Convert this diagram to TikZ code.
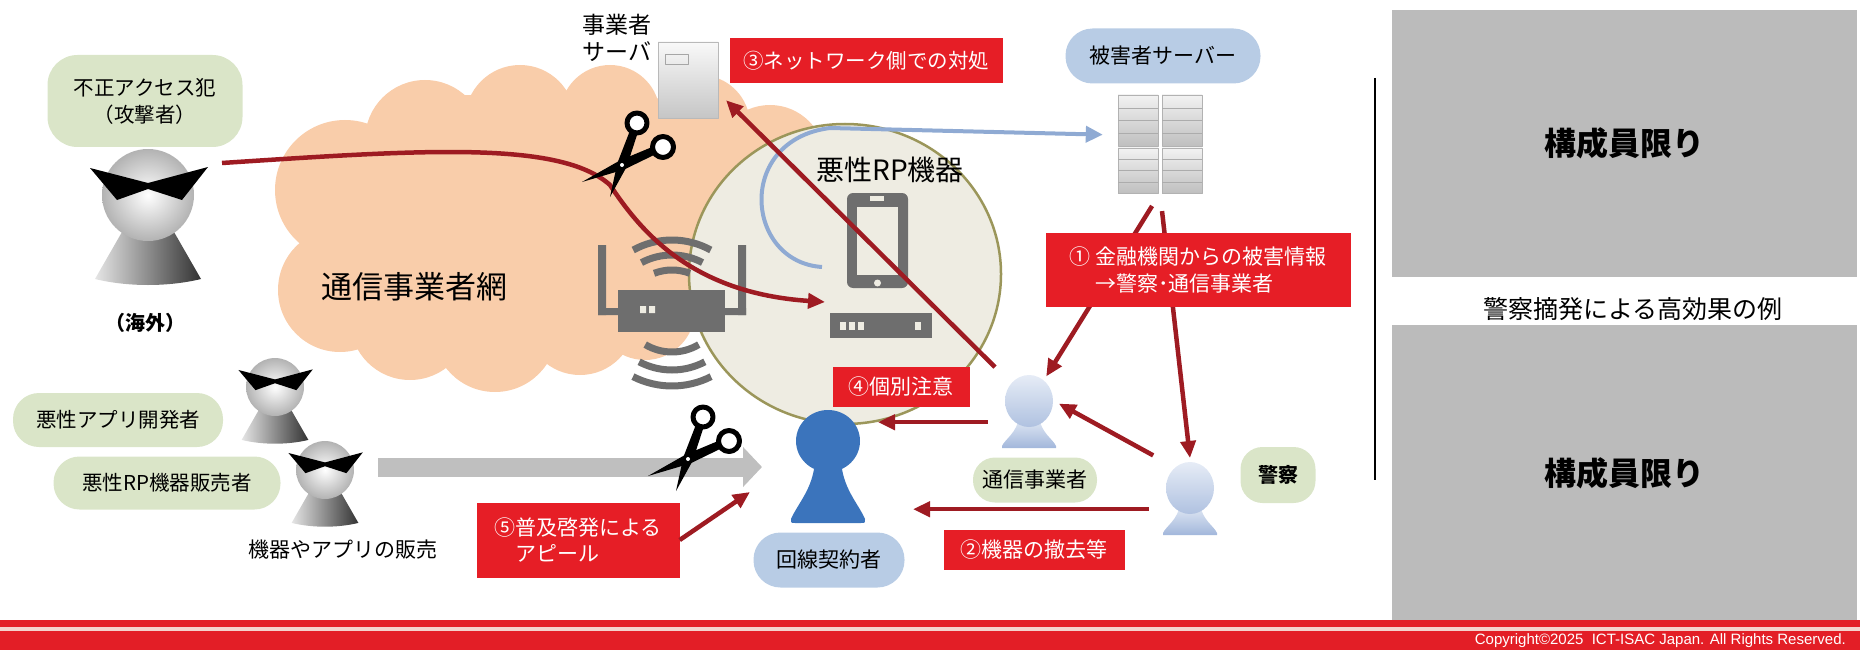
\documentclass[tikz,border=0pt]{standalone}
\usepackage{fontspec}
\setmainfont{Noto Sans CJK JP}
\newfontfamily\copyfont{Liberation Sans}
\usetikzlibrary{arrows.meta,shapes.geometric,positioning}

\definecolor{Cloud}{HTML}{F9CDAA}
\definecolor{Zone}{HTML}{EEECE2}
\definecolor{ZoneLine}{HTML}{9B965A}
\definecolor{Device}{HTML}{6E6E6E}
\definecolor{Note}{HTML}{E61E26}
\definecolor{Wire}{HTML}{9E1B22}
\definecolor{Actor}{HTML}{DAE5C8}
\definecolor{Victim}{HTML}{B8CCE5}
\definecolor{Flow}{HTML}{8FAAD3}
\definecolor{Sale}{HTML}{BFBFBF}
\definecolor{Member}{HTML}{BBBBBB}
\definecolor{Subscriber}{HTML}{3B74BC}
\definecolor{StaffTop}{HTML}{E6ECF6}
\definecolor{StaffBot}{HTML}{A2B7DB}
\definecolor{Bar}{HTML}{E31E26}
\definecolor{BarLine}{HTML}{F4D2CC}

\newcommand{\jpsize}[2]{\fontsize{#1}{#2}\selectfont}

\tikzset{
  note/.style={fill=Note, text=white, inner sep=0pt, font=\jpsize{21}{27}},
  actor/.style={fill=Actor, inner sep=0pt, rounded corners=26pt, font=\jpsize{20.5}{27}},
  victim/.style={fill=Victim, inner sep=0pt, rounded corners=27pt, font=\jpsize{21}{27}},
  wire/.style={draw=Wire, line width=4.5pt, -{Triangle[length=17pt,width=15pt]}},
  flow/.style={draw=Flow, line width=4pt, -{Triangle[length=17pt,width=16pt]}},
  sale/.style={draw=Sale, line width=19pt, -{Triangle[length=19pt,width=39pt]}},
  wifi/.style={draw=Device, line width=7pt},
  headnode/.style={circle, inner sep=0pt, outer sep=6pt, minimum size=#1},
  % masked figure, head centre at the origin
  villain/.pic={
    \shade [left color=gray!20, right color=black!80] (-22,30) -- (-53,84)
      .. controls (-20,92) and (20,92) .. (53,84) -- (22,30) -- cycle;
    \shade [inner color=white, outer color=gray!60] (0,0) circle [radius=46];
    \fill [black] (-58,-27) -- (0,-12) -- (60,-28) -- (34,5) -- (0,-6) -- (-31,5) -- cycle;
    \node [headnode=92pt] (-head) at (0,0) {};
  },
  subscriber/.pic={
    \fill [Subscriber] (-13,20) .. controls (-15,48) and (-30,62) .. (-37,78)
      .. controls (-37,82) .. (-33,82) -- (33,82) .. controls (37,82) .. (37,78)
      .. controls (30,62) and (15,48) .. (13,20) -- cycle;
    \fill [Subscriber] (0,0) ellipse [x radius=32, y radius=31];
    \node [headnode=62pt] (-head) at (0,0) {};
  },
  staff/.pic={
    \shade [top color=StaffTop, bottom color=StaffBot] (-10,16) .. controls (-12,32) and (-24,38) .. (-27,45)
      -- (-27,47) -- (27,47) -- (27,45) .. controls (24,38) and (12,32) .. (10,16) -- cycle;
    \shade [top color=StaffTop, bottom color=StaffBot!80!StaffTop] (0,0) ellipse [x radius=24, y radius=26];
    \node [headnode=48pt] (-head) at (0,0) {};
  },
  scissors/.pic={
    \fill [black] (21.4,-10.7) -- (24.6,-3.3) -- (-6,11.6) -- (-48,24) -- (-10,2.4) -- cycle;
    \fill [black] (-0.2,-27) -- (7.4,-24.2) -- (-3.3,8.7) -- (-20,39) -- (-12.7,5.3) -- cycle;
    \draw [line width=5pt, fill=white] (7,-35) circle [radius=10];
    \draw [line width=5pt, fill=white] (33,-11) circle [radius=10.5];
    \fill [white] (-8,7) circle [radius=2];
  },
}

\begin{document}
\begin{tikzpicture}[x=1pt, y=-1pt, line join=round]

 \useasboundingbox (0,0) rectangle (1860,650);

 %%%%%%%%%% Carrier network cloud %%%%%%%%%%
 \fill [Cloud] (345,190) circle [radius=70] (425,140) circle [radius=60]
   (520,120) circle [radius=55] (610,115) circle [radius=50] (700,125) circle [radius=50]
   (770,160) circle [radius=55] (340,290) circle [radius=62] (410,320) circle [radius=60]
   (495,330) circle [radius=62] (580,320) circle [radius=55] (645,310) circle [radius=50]
   (560,230) circle [radius=130] (700,240) circle [radius=80]
   (420,225) circle [radius=85] (470,175) circle [radius=80];
 \node [font=\jpsize{31}{36}] (netlabel) at (414,287) {通信事業者網};

 %%%%%%%%%% Malicious RP zone %%%%%%%%%%
 \node [ellipse, draw=ZoneLine, fill=Zone, line width=2.5pt, minimum width=312pt, minimum height=300pt] (zone) at (845,274) {};
 \node [font=\jpsize{28}{32}] (rplabel) at (890,170) {悪性RP機器};

 %%%%%%%%%% Router and wifi %%%%%%%%%%
 \fill [Device] (598,245) rectangle (606,315) (738,245) rectangle (746,315);
 \fill [Device] (598,308) rectangle (620,315) (723,308) rectangle (746,315);
 \node [fill=Device, minimum width=107pt, minimum height=42pt, inner sep=0pt] (router) at (671.5,311) {};
 \fill [Zone] (640,306) rectangle ++(6,7) (649,306) rectangle ++(6,7);
 \draw [wifi] (672,320) ++(-61:80) arc [start angle=-61, end angle=-119, radius=80];
 \draw [wifi] (672,320) ++(-62:65) arc [start angle=-62, end angle=-118, radius=65];
 \draw [wifi] (672,320) ++(-69:50) arc [start angle=-69, end angle=-111, radius=50];
 \draw [wifi] (672,300) ++(59:52) arc [start angle=59, end angle=121, radius=52];
 \draw [wifi] (672,300) ++(62:70) arc [start angle=62, end angle=118, radius=70];
 \draw [wifi] (672,300) ++(63:86) arc [start angle=63, end angle=117, radius=86];

 %%%%%%%%%% Phone and modem %%%%%%%%%%
 \node [fill=Device, rounded corners=6pt, minimum width=61pt, minimum height=95pt, inner sep=0pt] (phone) at (877.5,240.5) {};
 \fill [Zone] (857,207) rectangle (898,275);
 \fill [Zone] (870,196) rectangle (884,201);
 \fill [Zone] (877.5,283) circle [radius=3.5];
 \node [fill=Device, minimum width=102pt, minimum height=25pt, inner sep=0pt] (modem) at (881,325.5) {};
 \foreach \x in {840,849,858,915}
   \fill [Zone] (\x,322) rectangle ++(6,8);

 %%%%%%%%%% Servers %%%%%%%%%%
 \node [draw=gray!55, top color=gray!5, bottom color=gray!45, minimum width=60pt, minimum height=76pt, inner sep=0pt, outer sep=8pt] (opsrv) at (688,80) {};
 \draw [gray!70, line width=1pt] (665,55) rectangle (688,65);
 \node [font=\jpsize{23}{27}, align=left, inner sep=0pt] (opsrvlabel) at (617,38) {事業者\\サーバ};

 \foreach \cx in {1118,1162}
 {
   \foreach \cy/\ch in {95/51,148/45}
   {
     \shade [top color=gray!10, bottom color=gray!50, draw=gray!60] (\cx,\cy) rectangle ++(40,\ch);
     \foreach \k in {1,2,3}
       \draw [gray!65] (\cx,{\cy+\k*\ch/4}) -- ++(40,0);
   }
 }
 \node [minimum width=84pt, minimum height=98pt, inner sep=0pt] (vsrv) at (1160,144) {};
 \node [victim, minimum width=195pt, minimum height=55pt] (vsrvlabel) at (1163,56) {被害者サーバー};

 %%%%%%%%%% People %%%%%%%%%%
 \node [actor, minimum width=195pt, minimum height=92pt, rounded corners=30pt, align=center] (atkbox) at (145,101) {不正アクセス犯\\（攻撃者）};
 \pic (atk) at (148,195) {villain};
 \node [font=\bfseries\jpsize{20}{24}] (overseas) at (145,323) {（海外）};

 \node [actor, minimum width=210pt, minimum height=54pt] (appdev) at (118,420) {悪性アプリ開発者};
 \node [actor, minimum width=227pt, minimum height=53pt] (rpseller) at (167,483) {悪性RP機器販売者};
 \pic [scale=0.63] (dev) at (275,387) {villain};
 \pic [scale=0.63] (seller) at (325,470) {villain};
 \node [font=\jpsize{21}{25}] (sales) at (343,550) {機器やアプリの販売};

 \pic (con) at (828,441) {subscriber};
 \node [victim, minimum width=151pt, minimum height=55pt] (conbox) at (829,560) {回線契約者};
 \pic (car) at (1029,401) {staff};
 \node [actor, minimum width=124pt, minimum height=45pt, rounded corners=22pt, font=\jpsize{21}{25}] (carbox) at (1035,480) {通信事業者};
 \pic (pol) at (1190,488) {staff};
 \node [actor, minimum width=75pt, minimum height=56pt, rounded corners=22pt, font=\bfseries\jpsize{20}{24}] (polbox) at (1278,475) {警察};

 %%%%%%%%%% Flows %%%%%%%%%%
 \coordinate (saleFrom) at (378,467);
 \coordinate (saleTo) at (762,467);
 \draw [sale] (saleFrom) -- (saleTo);

 \coordinate (flowOut) at (822,267);
 \draw [flow, shorten >=15pt] (flowOut) .. controls (745,262) and (735,140) .. (830,128) -- (vsrv.168);

 \coordinate (atkWire) at (222,163);
 \coordinate (rpIn) at (825,302);
 \draw [wire] (atkWire) .. controls (420,150) and (560,140) .. (610,185)
   .. controls (640,230) and (690,293) .. (rpIn);

 \draw [wire, shorten <=18pt] (car-head.135) -- (opsrv.-28);
 \draw [wire, shorten <=15pt] (vsrv.south) -- (car-head.55);
 \draw [wire, shorten <=18pt] (vsrv.south) -- (pol-head.north);
 \draw [wire, shorten <=20pt] (pol-head.130) -- (car-head.-5);
 \draw [wire, shorten <=20pt, shorten >=13pt] (car-head.south west) -- (car-head.south west -| con-head.east);
 \draw [wire, shorten <=20pt, shorten >=48pt] (pol-head.south west) -- (pol-head.south west -| con-head.east);

 %%%%%%%%%% Cut points %%%%%%%%%%
 \pic at (630,158) {scissors};
 \pic at (696,452) {scissors};

 %%%%%%%%%% Countermeasures %%%%%%%%%%
 \node [note, minimum width=305pt, minimum height=74pt, align=left] (box1) at (1198,270) {① 金融機関からの被害情報\\\phantom{① }→警察･通信事業者};
 \node [note, minimum width=181pt, minimum height=40pt] (box2) at (1034,550) {②機器の撤去等};
 \node [note, minimum width=273pt, minimum height=45pt, font=\jpsize{20.5}{25}] (box3) at (866,61) {③ネットワーク側での対処};
 \node [note, minimum width=137pt, minimum height=40pt] (box4) at (901,387) {④個別注意};
 \node [note, minimum width=203pt, minimum height=75pt, align=left] (box5) at (578,540) {⑤普及啓発による\\\hspace{1em}アピール};
 \coordinate (conIn) at (750,492);
 \draw [wire] (box5.east) -- (conIn);

 %%%%%%%%%% Members only panels %%%%%%%%%%
 \draw [line width=2pt] (1375,78) -- (1375,480);
 \node [fill=Member, minimum width=465pt, minimum height=267pt, inner sep=0pt, font=\bfseries\jpsize{32}{36}] (memberA) at (1624.5,143.5) {構成員限り};
 \node [fill=Member, minimum width=465pt, minimum height=297pt, inner sep=0pt, font=\bfseries\jpsize{32}{36}] (memberB) at (1624.5,473.5) {構成員限り};
 \node [font=\jpsize{25}{30}] (caption) at (1633,309) {警察摘発による高効果の例};

 %%%%%%%%%% Footer %%%%%%%%%%
 \fill [Bar] (0,620) rectangle (1860,650);
 \fill [BarLine] (0,627) rectangle (1860,631);
 \node [anchor=east, text=white, inner sep=0pt, font=\copyfont\fontsize{15}{17}\selectfont] (copyright) at (1846,641) {Copyright©2025\ \ ICT-ISAC Japan. All Rights Reserved.};

\end{tikzpicture}
\end{document}
